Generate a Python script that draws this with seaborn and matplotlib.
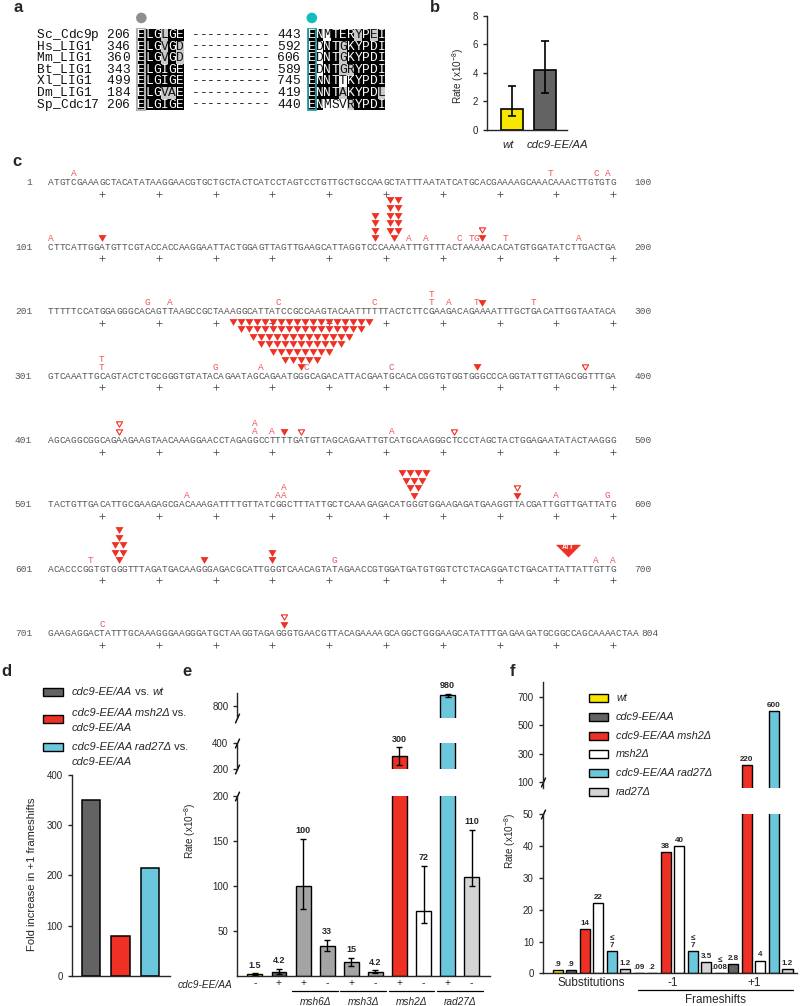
import numpy as np
import pandas as pd
import matplotlib
matplotlib.use("Agg")
import matplotlib.pyplot as plt
import matplotlib.transforms as mtransforms
import seaborn as sns

# ---------------- data ----------------
# a: ligase I alignment
a_names = ['Sc_Cdc9p', 'Hs_LIG1', 'Mm_LIG1', 'Bt_LIG1', 'Xl_LIG1', 'Dm_LIG1', 'Sp_Cdc17']
a_start1 = [206, 346, 360, 343, 499, 184, 206]
a_block1 = ['ELGLGE', 'ELGVGD', 'ELGVGD', 'ELGIGE', 'ELGIGE', 'ELGVAE', 'ELGIGE']
a_start2 = [443, 592, 606, 589, 745, 419, 440]
a_block2 = ['ENMTERYPEI', 'EDNTGKYPDI', 'EDNTGKYPDI', 'EDNTGRYPDI',
            'ENNTTKYPDI', 'ENNTAKYPDL', 'ENMSVRYPDI']
# 2 = identical (black), 1 = similar (grey), 0 = not shaded
a_shade1 = ['222122', '222121', '222121', '222222', '222222', '222112', '222222']
a_shade2 = ['2202221212', '2022122222', '2022122222', '2022112222',
            '2222022222', '2222122221', '2200012222']

# b: CAN1 rates
b_strains = ['wt', 'cdc9-EE/AA']
b_rate = np.array([1.5, 4.2])
b_lo = np.array([1.0, 2.6])
b_hi = np.array([3.1, 6.2])

# c: URA3 mutation spectrum
seq_lines = [
    'ATGTCGAAAGCTACATATAAGGAACGTGCTGCTACTCATCCTAGTCCTGTTGCTGCCAAGCTATTTAATATCATGCACGAAAAGCAAACAAACTTGTGTG',
    'CTTCATTGGATGTTCGTACCACCAAGGAATTACTGGAGTTAGTTGAAGCATTAGGTCCCAAAATTTGTTTACTAAAAACACATGTGGATATCTTGACTGA',
    'TTTTTCCATGGAGGGCACAGTTAAGCCGCTAAAGGCATTATCCGCCAAGTACAATTTTTTACTCTTCGAAGACAGAAAATTTGCTGACATTGGTAATACA',
    'GTCAAATTGCAGTACTCTGCGGGTGTATACAGAATAGCAGAATGGGCAGACATTACGAATGCACACGGTGTGGTGGGCCCAGGTATTGTTAGCGGTTTGA',
    'AGCAGGCGGCAGAAGAAGTAACAAAGGAACCTAGAGGCCTTTTGATGTTAGCAGAATTGTCATGCAAGGGCTCCCTAGCTACTGGAGAATATACTAAGGG',
    'TACTGTTGACATTGCGAAGAGCGACAAAGATTTTGTTATCGGCTTTATTGCTCAAAGAGACATGGGTGGAAGAGATGAAGGTTACGATTGGTTGATTATG',
    'ACACCCGGTGTGGGTTTAGATGACAAGGGAGACGCATTGGGTCAACAGTATAGAACCGTGGATGATGTGGTCTCTACAGGATCTGACATTATTATTGTTG',
    'GAAGAGGACTATTTGCAAAGGGAAGGGATGCTAAGGTAGAGGGTGAACGTTACAGAAAAGCAGGCTGGGAAGCATATTTGAGAAGATGCGGCCAGCAAAACTAA',
]
# (position, event): a letter = base substitution, 'del' = -1, 'ins' = +1
c_events = [
    (5, 'A'), (89, 'T'), (97, 'C'), (99, 'A'),
    (101, 'A'), (110, 'del'), (164, 'A'), (167, 'A'), (173, 'C'), (175, 'T'), (176, 'G'),
    (177, 'del'), (177, 'ins'), (181, 'T'), (194, 'A'),
    (218, 'G'), (222, 'A'), (241, 'C'), (258, 'C'), (268, 'T'), (268, 'T'), (271, 'A'),
    (276, 'T'), (277, 'del'), (286, 'T'),
    (310, 'T'), (310, 'T'), (330, 'G'), (338, 'A'), (346, 'C'), (361, 'C'), (376, 'del'), (395, 'ins'),
    (413, 'ins'), (413, 'ins'), (437, 'A'), (437, 'A'), (440, 'A'), (442, 'del'), (445, 'ins'),
    (461, 'A'), (472, 'ins'),
    (525, 'A'), (541, 'A'), (542, 'A'), (542, 'A'), (583, 'del'), (583, 'ins'), (590, 'A'), (599, 'G'),
    (608, 'T'), (628, 'del'), (651, 'G'), (697, 'A'), (700, 'A'),
    (710, 'C'), (742, 'del'), (742, 'ins'),
]
# -1 hotspots in runs: (run centre, triangles per row from bottom to top)
c_clusters = [(158, [1, 1, 1, 1]), (161.5, [1, 2, 2, 2, 2, 2]),
              (345, [1, 5, 8, 11, 13, 16, 18]), (565, [1, 2, 3, 4]),
              (613, [1, 2, 2, 1, 1]), (640, [1, 1])]
c_big_ins = [(692, 'ATT')]

# d: fold increase in +1 frameshifts
d_labels = ['cdc9-EE/AA vs. wt', 'cdc9-EE/AA msh2Δ vs. cdc9-EE/AA', 'cdc9-EE/AA rad27Δ vs. cdc9-EE/AA']
d_fold = [350, 80, 215]

# e: URA3 rates
e_cdc9 = ['-', '+', '+', '-', '+', '-', '+', '-', '+', '-']
e_groups = ['msh6Δ', 'msh3Δ', 'msh2Δ', 'rad27Δ']
e_rate = np.array([1.5, 4.2, 100, 33, 15, 4.2, 300, 72, 980, 110])
e_lo = np.array([1.0, 2.0, 74, 28, 11, 2.5, 230, 59, 955, 100])
e_hi = np.array([3.0, 7.5, 152, 40, 20, 6.3, 370, 122, 1005, 162])

# f: rates by mutation class
f_groups = ['Substitutions', '-1', '+1']
f_genotypes = ['wt', 'cdc9-EE/AA', 'cdc9-EE/AA msh2Δ', 'msh2Δ', 'cdc9-EE/AA rad27Δ', 'rad27Δ']
f_subs = [0.9, 0.9, 14, 22, 7, 1.2]
f_minus1 = [0.09, 0.2, 38, 40, 7, 3.5]
f_plus1 = [0.008, 2.8, 220, 4, 600, 1.2]
f_upper = [[0, 0, 0, 0, 1, 0], [0, 0, 0, 0, 1, 0], [1, 0, 0, 0, 0, 0]]

# ---------------- style ----------------
YELLOW, DGREY, RED, CYAN = '#f7e600', '#636363', '#ee3124', '#6bc8dc'
LGREY, MGREY, WHITE = '#d4d4d4', '#a4a4a4', 'white'
SUBRED = '#f0585c'
SEQGREY = '#555555'
MONO = ['Liberation Mono', 'DejaVu Sans Mono']

sns.set_style("ticks")
plt.rcParams['font.family'] = ['Liberation Sans', 'DejaVu Sans']
plt.rcParams['mathtext.fontset'] = 'custom'
plt.rcParams['mathtext.rm'] = 'Liberation Sans'
plt.rcParams['axes.linewidth'] = 1.0
plt.rcParams['xtick.major.width'] = 1.0
plt.rcParams['ytick.major.width'] = 1.0
plt.rcParams['xtick.major.size'] = 3
plt.rcParams['ytick.major.size'] = 3
plt.rcParams['xtick.labelsize'] = 7
plt.rcParams['ytick.labelsize'] = 7

W, H = 800, 1006
fig = plt.figure(figsize=(W / 100, H / 100), dpi=100)


def px_axes(left, top, width, height):
    return fig.add_axes([left / W, 1 - (top + height) / H, width / W, height / H])


SLASH = [(-0.45, -1.0), (0.45, 1.0)]


def break_mark(ax, yfrac):
    ax.plot([0], [yfrac], marker=SLASH, ms=7, mew=1.0, color='black',
            transform=ax.transAxes, clip_on=False)


def rich_text(ax, x, y, parts, size=7):
    # chain text pieces so italic and upright words sit side by side
    t = ax.text(x, y, parts[0][0], style=parts[0][1], fontsize=size, va='center', ha='left')
    for s, st in parts[1:]:
        t = ax.annotate(s, xy=(1, 0), xycoords=t, va='bottom', ha='left', style=st, fontsize=size)
    return t


overlay = fig.add_axes([0, 0, 1, 1])
overlay.set_zorder(10)
overlay.set_xlim(0, W)
overlay.set_ylim(H, 0)
overlay.axis('off')

# ---------------- a ----------------
axa = px_axes(36.7, 12, 348.75, 100)
axa.set_xlim(0, 45)
axa.set_ylim(6.64, -1.98)
axa.axis('off')
for r, name in enumerate(a_names):
    row = f"{name:<9}{a_start1[r]:<4}{a_block1[r]} {'-' * 10} {a_start2[r]:<4}{a_block2[r]}"
    shade = ' ' * 13 + a_shade1[r] + ' ' * 16 + a_shade2[r]
    cols = [c for c in range(len(row)) if shade[c] in '12']
    axa.bar([c + 0.5 for c in cols], 1.0, bottom=r - 0.5, width=1.0, linewidth=0,
            color=['black' if shade[c] == '2' else '#c9c9c9' for c in cols])
    for c, ch in enumerate(row):
        axa.text(c + 0.5, r, ch, family=MONO, fontsize=9.3, ha='center', va='center',
                 color='white' if shade[c] == '2' else '#111111')
axa.bar(13.5, 7, bottom=-0.5, width=1.0, fill=False, edgecolor='#b0b0b0', linewidth=1.5)
axa.bar(35.5, 7, bottom=-0.5, width=1.0, fill=False, edgecolor='#2a9d9d', linewidth=1.3)
axa.scatter([13.5, 35.5], [-1.47, -1.47], s=58, color=['#8f8f8f', '#14bdbd'], linewidth=0)

# ---------------- b ----------------
axb = px_axes(487, 15.7, 80, 114.3)
df_b = pd.DataFrame({'strain': b_strains, 'rate': b_rate})
sns.barplot(data=df_b, x='strain', y='rate', hue='strain',
            palette=dict(zip(b_strains, [YELLOW, DGREY])), width=0.66, saturation=1,
            edgecolor='black', linewidth=1.2, errorbar=None, legend=False, ax=axb)
axb.errorbar(range(2), b_rate, yerr=[b_rate - b_lo, b_hi - b_rate], fmt='none',
             ecolor='black', elinewidth=1.2, capsize=3, capthick=1.2)
axb.set_xlim(-0.77, 1.66)
axb.set_ylim(0, 8)
axb.set_yticks([0, 2, 4, 6, 8])
axb.set_xlabel('')
axb.set_ylabel('')
axb.set_xticks(range(2))
axb.set_xticklabels([])
axb.tick_params(axis='x', length=0)
trans_b = mtransforms.blended_transform_factory(axb.transData, axb.transAxes)
for x, lab in zip([-0.13, 1.38], b_strains):
    axb.text(x, -0.13, lab, style='italic', fontsize=8.2, ha='center', va='center',
             transform=trans_b)
sns.despine(ax=axb)
fig.text(458 / W, 1 - 76 / H, 'Rate (x10$^{-8}$)', rotation=90, ha='center', va='center', fontsize=7.2)

# ---------------- c ----------------
axc = px_axes(0, 150, 800, 510)
axc.set_xlim(-7.95, 132.9)
axc.set_ylim(7.407, -0.512)
axc.axis('off')
for L, s in enumerate(seq_lines):
    for i, ch in enumerate(s):
        axc.text(i + 1, L, ch, family=MONO, fontsize=6.8, color=SEQGREY, ha='center', va='center')
    axc.text(-2.3, L, str(L * 100 + 1), family=MONO, fontsize=6.8, color=SEQGREY,
             ha='right', va='center')
    axc.text(max(103.8, len(s) + 1.0), L, str(L * 100 + len(s)), family=MONO, fontsize=6.8,
             color=SEQGREY, ha='left', va='center')
    ticks = np.arange(10, 101, 10)
    axc.scatter(ticks, np.full(len(ticks), L + 0.17), marker='+', s=14, linewidth=0.6,
                color=SEQGREY)


def locate(pos):
    line = min(int((pos - 1) // 100), 7)
    return line, pos - line * 100


TRI = [(-1, 0.85), (1, 0.85), (0, -0.85), (-1, 0.85)]
BIG_TRI = [(-1, 0.45), (1, 0.45), (0, -0.55), (-1, 0.45)]
BASE, STEP, CSTEP, TRI_W = 0.14, 0.125, 0.118, 1.41
stack = {}
for pos, kind in c_events:
    L, col = locate(pos)
    k = stack.get(pos, 0)
    stack[pos] = k + 1
    y = L - BASE - k * STEP
    if kind == 'del':
        axc.scatter(col, y, marker=TRI, s=33, color=RED, linewidth=0)
    elif kind == 'ins':
        axc.scatter(col, y, marker=TRI, s=20, facecolor='white', edgecolor=RED, linewidth=0.8)
    else:
        axc.text(col, y, kind, family=MONO, fontsize=6.8, color=SUBRED, ha='center', va='center')

for pos, rows in c_clusters:
    L, col = locate(pos)
    for k, n in enumerate(rows):
        xs = col + (np.arange(n) - (n - 1) / 2) * TRI_W
        axc.scatter(xs, np.full(n, L - BASE - k * CSTEP), marker=TRI, s=33, color=RED,
                    linewidth=0)

for pos, ins in c_big_ins:
    L, col = locate(pos)
    axc.scatter(col, L - 0.3, marker=BIG_TRI, s=330, color=RED, linewidth=0)
    axc.text(col, L - 0.345, ins, fontsize=4.8, fontweight='bold', color='white',
             ha='center', va='center')

# ---------------- d ----------------
axd = px_axes(71.7, 775, 98.3, 200.7)
df_d = pd.DataFrame({'cmp': d_labels, 'fold': d_fold})
d_colors = [DGREY, RED, CYAN]
sns.barplot(data=df_d, x='cmp', y='fold', hue='cmp', palette=dict(zip(d_labels, d_colors)),
            width=0.62, saturation=1, edgecolor='black', linewidth=1.1, errorbar=None,
            legend=False, ax=axd)
axd.set_xlim(-0.65, 2.68)
axd.set_ylim(0, 400)
axd.set_yticks([0, 100, 200, 300, 400])
axd.set_xticks([])
axd.set_xlabel('')
axd.set_ylabel('')
sns.despine(ax=axd)
fig.text(32 / W, 1 - 874 / H, 'Fold increase in +1 frameshifts', rotation=90,
         ha='center', va='center', fontsize=8.1)

d_leg_patch_y = [692, 719, 747]
d_leg_text = [
    [[('cdc9-EE/AA', 'italic'), (' vs. ', 'normal'), ('wt', 'italic')]],
    [[('cdc9-EE/AA msh2Δ', 'italic'), (' vs.', 'normal')], [('cdc9-EE/AA', 'italic')]],
    [[('cdc9-EE/AA rad27Δ', 'italic'), (' vs.', 'normal')], [('cdc9-EE/AA', 'italic')]],
]
d_leg_text_y = [692, 713, 747]
for i, col in enumerate(d_colors):
    overlay.bar(52.8, 8, bottom=d_leg_patch_y[i] - 4, width=19.5, color=col,
                edgecolor='black', linewidth=1.0)
    for j, parts in enumerate(d_leg_text[i]):
        rich_text(overlay, 71.7, d_leg_text_y[i] + j * 15.3, parts, size=8)

# ---------------- e ----------------
e_colors = [YELLOW, DGREY, MGREY, MGREY, MGREY, MGREY, RED, WHITE, CYAN, LGREY]
e_ids = [f'e{i}' for i in range(len(e_rate))]
df_e = pd.DataFrame({'id': e_ids, 'rate': e_rate})
axe_bot = px_axes(237.3, 795.7, 252.7, 180)
axe_mid = px_axes(237.3, 743.3, 252.7, 26)
axe_top = px_axes(237.3, 693, 252.7, 25)
e_axes = [(axe_bot, (0, 200), [50, 100, 150, 200]),
          (axe_mid, (200, 400), [200, 400]),
          (axe_top, (600, 1020), [800])]
for ax, lim, ticks in e_axes:
    sns.barplot(data=df_e, x='id', y='rate', hue='id', palette=dict(zip(e_ids, e_colors)),
                width=0.62, saturation=1, edgecolor='black', linewidth=1.0, errorbar=None,
                legend=False, ax=ax)
    ax.errorbar(range(len(e_rate)), e_rate, yerr=[e_rate - e_lo, e_hi - e_rate], fmt='none',
                ecolor='black', elinewidth=1.0, capsize=2.5, capthick=1.0)
    ax.set_xlim(-0.73, 9.76)
    ax.set_ylim(*lim)
    ax.set_yticks(ticks)
    ax.set_xlabel('')
    ax.set_ylabel('')
    for i, (v, hi) in enumerate(zip(e_rate, e_hi)):
        if lim[0] < hi <= lim[1] or (ax is axe_top and hi > lim[1]):
            ax.annotate(f'{v:g}', (i, hi), xytext=(0, 2.5), textcoords='offset points',
                        ha='center', va='bottom', fontsize=6.5, fontweight='bold',
                        annotation_clip=False)
    if ax is axe_bot:
        sns.despine(ax=ax)
        ax.set_xticks(range(len(e_cdc9)))
        ax.set_xticklabels(e_cdc9, fontsize=7.5)
        ax.tick_params(axis='x', length=0, pad=2)
        break_mark(ax, 1.0)
    else:
        sns.despine(ax=ax, bottom=True)
        ax.set_xticks([])
        break_mark(ax, 0.0)
        if ax is axe_mid:
            break_mark(ax, 1.0)

trans_e = mtransforms.blended_transform_factory(axe_bot.transData, axe_bot.transAxes)
axe_bot.text(-0.95, -0.05, 'cdc9-EE/AA', style='italic', fontsize=7.3, ha='right', va='center',
             transform=trans_e)
for g, name in enumerate(e_groups):
    x0 = 2 + 2 * g
    axe_bot.plot([x0 - 0.45, x0 + 1.45], [-0.083, -0.083], color='black', linewidth=0.9,
                 transform=trans_e, clip_on=False)
    axe_bot.text(x0 + 0.5, -0.144, name, style='italic', fontsize=7.3, ha='center', va='center',
                 transform=trans_e)
fig.text(190 / W, 1 - 831 / H, 'Rate (x10$^{-8}$)', rotation=90, ha='center', va='center',
         fontsize=7.2)

# ---------------- f ----------------
f_colors = [YELLOW, DGREY, RED, WHITE, CYAN, LGREY]
f_values = [f_subs, f_minus1, f_plus1]
df_f = pd.DataFrame([(g, gen, v) for g, vals in zip(f_groups, f_values)
                     for gen, v in zip(f_genotypes, vals)], columns=['group', 'genotype', 'rate'])
axf_bot = px_axes(542.7, 814.3, 254, 159)
axf_top = px_axes(542.7, 682, 254, 106)
for ax, lim, ticks in [(axf_bot, (0, 50), [0, 10, 20, 30, 40, 50]),
                       (axf_top, (58, 803), [100, 300, 500, 700])]:
    sns.barplot(data=df_f, x='group', y='rate', hue='genotype', order=f_groups,
                hue_order=f_genotypes, palette=dict(zip(f_genotypes, f_colors)),
                width=1.0, gap=0.26, saturation=1, edgecolor='black', linewidth=1.0,
                errorbar=None, legend=False, ax=ax)
    ax.set_xlim(-0.60, 2.53)
    ax.set_ylim(*lim)
    ax.set_yticks(ticks)
    ax.set_xlabel('')
    ax.set_ylabel('')
    for g, vals in enumerate(f_values):
        for j, v in enumerate(vals):
            on_bot = v <= lim[1] and ax is axf_bot
            on_top = lim[0] <= v <= lim[1] and ax is axf_top
            if not (on_bot or on_top):
                continue
            lab = f'{v:g}'
            if lab.startswith('0.'):
                lab = lab[1:]
            if f_upper[g][j]:
                lab = '≤\n' + lab
            ax.annotate(lab, (g - 0.5 + (j + 0.5) / 6, v), xytext=(0, 1.5),
                        textcoords='offset points', ha='center', va='bottom', fontsize=5.8,
                        fontweight='bold', linespacing=1.0, annotation_clip=False)
    if ax is axf_bot:
        sns.despine(ax=ax)
        ax.set_xticks(range(3))
        ax.set_xticklabels(f_groups, fontsize=8.5)
        ax.tick_params(axis='x', length=0, pad=2.5)
        break_mark(ax, 1.0)
    else:
        sns.despine(ax=ax, bottom=True)
        ax.set_xticks([])
        break_mark(ax, 0.055)

trans_f = mtransforms.blended_transform_factory(axf_bot.transData, axf_bot.transAxes)
axf_bot.plot([0.58, 2.48], [-0.105, -0.105], color='black', linewidth=0.9,
             transform=trans_f, clip_on=False)
axf_bot.text(1.53, -0.17, 'Frameshifts', fontsize=8.4, ha='center', va='center',
             transform=trans_f)
fig.text(510 / W, 1 - 841 / H, 'Rate (x10$^{-8}$)', rotation=90, ha='center', va='center',
         fontsize=7.2)

for i, (gen, col) in enumerate(zip(f_genotypes, f_colors)):
    y = 698.3 + i * 18.65
    overlay.bar(598.8, 8, bottom=y - 4, width=19, color=col, edgecolor='black', linewidth=1.0)
    overlay.text(616, y, gen, style='italic', fontsize=7.8, ha='left', va='center')

# ---------------- panel letters ----------------
for letter, x, y in [('a', 18, 7), ('b', 435, 7), ('c', 17, 162), ('d', 6, 672),
                     ('e', 187, 672), ('f', 512, 672)]:
    fig.text(x / W, 1 - y / H, letter, fontsize=12, fontweight='bold', ha='center', va='center')

fig.savefig('out.png', dpi=100)
